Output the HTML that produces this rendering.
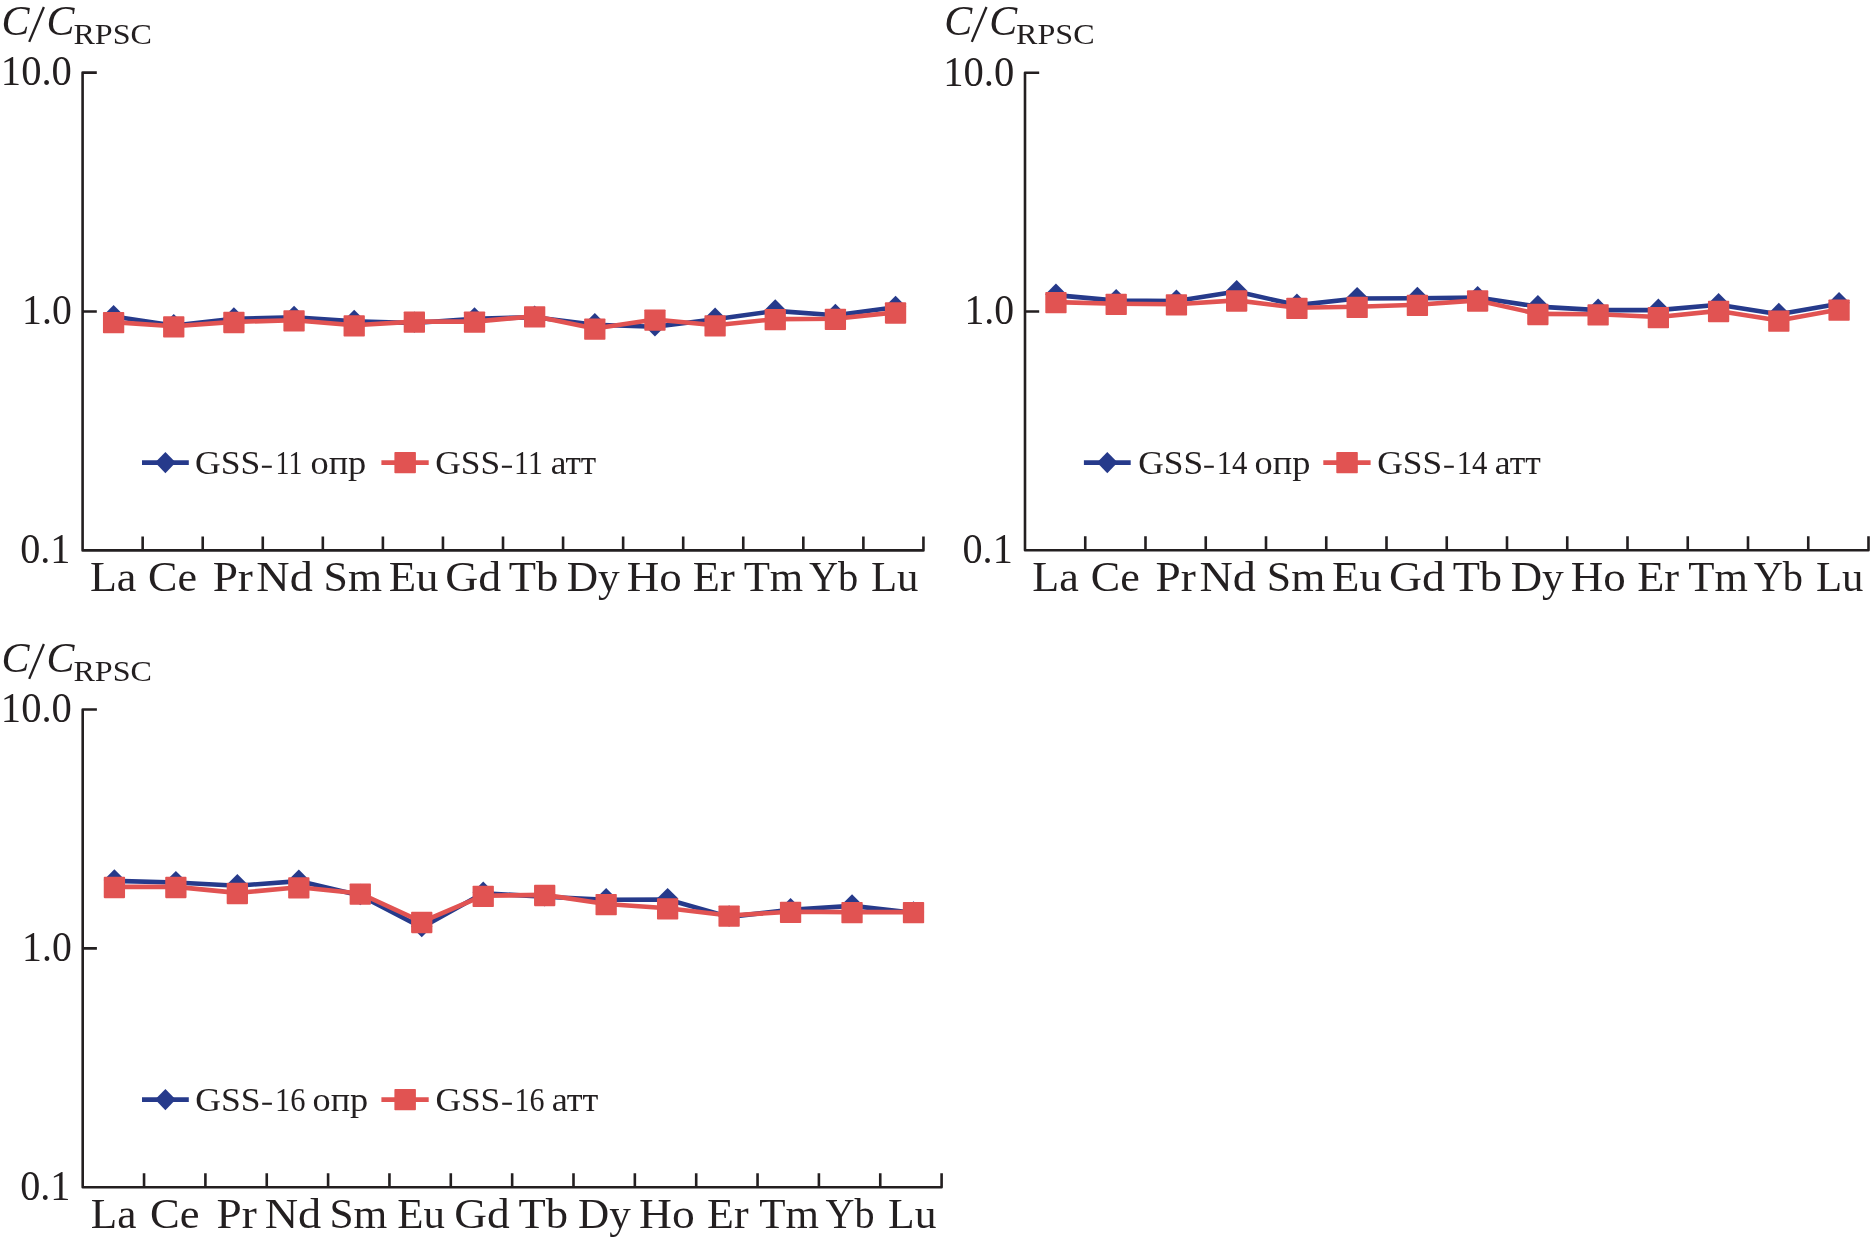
<!DOCTYPE html><html><head><meta charset="utf-8"><title>C/C RPSC</title><style>html,body{margin:0;padding:0;background:#fff;width:1870px;height:1240px;overflow:hidden}svg{display:block;will-change:transform}text{font-family:"Liberation Serif",serif;fill:#231f20}</style></head><body>
<svg width="1870" height="1240" viewBox="0 0 1870 1240">
<g><text transform="matrix(0.42 0 0 0.43 1.539 35.07)" font-size="100" font-style="italic">C</text><path d="M43.9 7L29.2 41.9" stroke="#231f20" stroke-width="2.3" fill="none"/><text transform="matrix(0.419 0 0 0.428 46.594 35.072)" font-size="100" font-style="italic">C</text><text transform="matrix(0.321 0 0 0.303 73.438 43.997)" font-size="100">RPSC</text><text transform="matrix(0.406 0 0 0.415 0.85 85.478)" font-size="100">10.0</text><text transform="matrix(0.397 0 0 0.421 22.124 323.769)" font-size="100">1.0</text><text transform="matrix(0.402 0 0 0.415 20.193 563.478)" font-size="100">0.1</text><path d="M96.8 72.6H82.6V550.4H923.44V536.4M82.6 311.5H96.8M142.66 550.4V536.4M202.72 550.4V536.4M262.78 550.4V536.4M322.84 550.4V536.4M382.9 550.4V536.4M442.96 550.4V536.4M503.02 550.4V536.4M563.08 550.4V536.4M623.14 550.4V536.4M683.2 550.4V536.4M743.26 550.4V536.4M803.32 550.4V536.4M863.38 550.4V536.4" fill="none" stroke="#231f20" stroke-width="2.6" stroke-linejoin="round"/><text transform="matrix(0.441 0 0 0.421 89.878 590.9)" font-size="100">La</text><text transform="matrix(0.441 0 0 0.421 148.038 590.9)" font-size="100">Ce</text><text transform="matrix(0.453 0 0 0.421 212.641 590.9)" font-size="100">Pr</text><text transform="matrix(0.462 0 0 0.421 256.314 590.9)" font-size="100">Nd</text><text transform="matrix(0.438 0 0 0.421 323.551 590.9)" font-size="100">Sm</text><text transform="matrix(0.449 0 0 0.421 388.654 590.9)" font-size="100">Eu</text><text transform="matrix(0.458 0 0 0.421 445.268 590.9)" font-size="100">Gd</text><text transform="matrix(0.446 0 0 0.421 508.807 590.9)" font-size="100">Tb</text><text transform="matrix(0.434 0 0 0.421 566.697 590.9)" font-size="100">Dy</text><text transform="matrix(0.45 0 0 0.421 626.649 590.9)" font-size="100">Ho</text><text transform="matrix(0.444 0 0 0.421 692.767 590.9)" font-size="100">Er</text><text transform="matrix(0.429 0 0 0.421 743.642 590.9)" font-size="100">Tm</text><text transform="matrix(0.404 0 0 0.421 808.896 590.9)" font-size="100">Yb</text><text transform="matrix(0.428 0 0 0.421 870.915 590.9)" font-size="100">Lu</text><polyline points="113.6,316.6 173.75,325.6 233.9,318.8 294.05,317.3 354.2,321.4 414.35,323 474.5,318.8 534.65,317.2 594.8,324.7 654.95,326.7 715.1,319.2 775.25,310.9 835.4,315.3 895.55,307.3" fill="none" stroke="#263a8b" stroke-width="4.6" stroke-linejoin="round"/><path d="M113.6 305l10.7 10.7l-10.7 10.7l-10.7 -10.7z" fill="#263a8b"/><path d="M173.75 314l10.7 10.7l-10.7 10.7l-10.7 -10.7z" fill="#263a8b"/><path d="M233.9 307.2l10.7 10.7l-10.7 10.7l-10.7 -10.7z" fill="#263a8b"/><path d="M294.05 305.7l10.7 10.7l-10.7 10.7l-10.7 -10.7z" fill="#263a8b"/><path d="M354.2 309.8l10.7 10.7l-10.7 10.7l-10.7 -10.7z" fill="#263a8b"/><path d="M414.35 311.4l10.7 10.7l-10.7 10.7l-10.7 -10.7z" fill="#263a8b"/><path d="M474.5 307.2l10.7 10.7l-10.7 10.7l-10.7 -10.7z" fill="#263a8b"/><path d="M534.65 305.6l10.7 10.7l-10.7 10.7l-10.7 -10.7z" fill="#263a8b"/><path d="M594.8 313.1l10.7 10.7l-10.7 10.7l-10.7 -10.7z" fill="#263a8b"/><path d="M654.95 315.1l10.7 10.7l-10.7 10.7l-10.7 -10.7z" fill="#263a8b"/><path d="M715.1 307.6l10.7 10.7l-10.7 10.7l-10.7 -10.7z" fill="#263a8b"/><path d="M775.25 299.3l10.7 10.7l-10.7 10.7l-10.7 -10.7z" fill="#263a8b"/><path d="M835.4 303.7l10.7 10.7l-10.7 10.7l-10.7 -10.7z" fill="#263a8b"/><path d="M895.55 295.7l10.7 10.7l-10.7 10.7l-10.7 -10.7z" fill="#263a8b"/><polyline points="113.6,322.1 173.75,326.3 233.9,321.9 294.05,320.2 354.2,325.3 414.35,321.6 474.5,321.6 534.65,316.2 594.8,328.6 654.95,319.5 715.1,325.2 775.25,319.1 835.4,318.7 895.55,312.4" fill="none" stroke="#e15352" stroke-width="4.6" stroke-linejoin="round"/><rect x="102.95" y="312.05" width="21.3" height="21.3" rx="0.8" fill="#e15352"/><rect x="163.1" y="316.25" width="21.3" height="21.3" rx="0.8" fill="#e15352"/><rect x="223.25" y="311.85" width="21.3" height="21.3" rx="0.8" fill="#e15352"/><rect x="283.4" y="310.15" width="21.3" height="21.3" rx="0.8" fill="#e15352"/><rect x="343.55" y="315.25" width="21.3" height="21.3" rx="0.8" fill="#e15352"/><rect x="403.7" y="311.55" width="21.3" height="21.3" rx="0.8" fill="#e15352"/><rect x="463.85" y="311.55" width="21.3" height="21.3" rx="0.8" fill="#e15352"/><rect x="524" y="306.15" width="21.3" height="21.3" rx="0.8" fill="#e15352"/><rect x="584.15" y="318.55" width="21.3" height="21.3" rx="0.8" fill="#e15352"/><rect x="644.3" y="309.45" width="21.3" height="21.3" rx="0.8" fill="#e15352"/><rect x="704.45" y="315.15" width="21.3" height="21.3" rx="0.8" fill="#e15352"/><rect x="764.6" y="309.05" width="21.3" height="21.3" rx="0.8" fill="#e15352"/><rect x="824.75" y="308.65" width="21.3" height="21.3" rx="0.8" fill="#e15352"/><rect x="884.9" y="302.35" width="21.3" height="21.3" rx="0.8" fill="#e15352"/><path d="M142 462.6H188.8" stroke="#263a8b" stroke-width="4.6"/><path d="M165.4 451.9l10.3 10.7l-10.3 10.7l-10.3 -10.7z" fill="#263a8b"/><path d="M381.4 462.6H428.7" stroke="#e15352" stroke-width="4.6"/><rect x="394.4" y="451.95" width="21.5" height="21.3" rx="0.8" fill="#e15352"/><text transform="matrix(0.356 0 0 0.34 194.975 474.2)" font-size="100">GSS</text><rect x="261.9" y="465.7" width="9.9" height="2.1" fill="#231f20"/><text transform="matrix(0.28 0 0 0.34 275.478 474.2)" font-size="100">11</text><text transform="matrix(0.364 0 0 0.34 310.443 474.2)" font-size="100">опр</text><text transform="matrix(0.354 0 0 0.34 435.182 474.2)" font-size="100">GSS</text><rect x="501.9" y="465.7" width="10.1" height="2.1" fill="#231f20"/><text transform="matrix(0.298 0 0 0.34 514.122 474.2)" font-size="100">11</text><text transform="matrix(0.353 0 0 0.34 550.664 474.2)" font-size="100">атт</text></g>
<g><text transform="matrix(0.42 0 0 0.43 944.139 35.07)" font-size="100" font-style="italic">C</text><path d="M986.5 7L971.8 41.9" stroke="#231f20" stroke-width="2.3" fill="none"/><text transform="matrix(0.419 0 0 0.428 989.194 35.072)" font-size="100" font-style="italic">C</text><text transform="matrix(0.321 0 0 0.303 1016.038 43.997)" font-size="100">RPSC</text><text transform="matrix(0.406 0 0 0.415 943.15 85.678)" font-size="100">10.0</text><text transform="matrix(0.397 0 0 0.421 964.424 323.819)" font-size="100">1.0</text><text transform="matrix(0.402 0 0 0.415 962.493 563.378)" font-size="100">0.1</text><path d="M1039.2 72.8H1025V550.3H1868.5V536.3M1025 311.55H1039.2M1085.25 550.3V536.3M1145.5 550.3V536.3M1205.75 550.3V536.3M1266 550.3V536.3M1326.25 550.3V536.3M1386.5 550.3V536.3M1446.75 550.3V536.3M1507 550.3V536.3M1567.25 550.3V536.3M1627.5 550.3V536.3M1687.75 550.3V536.3M1748 550.3V536.3M1808.25 550.3V536.3" fill="none" stroke="#231f20" stroke-width="2.6" stroke-linejoin="round"/><text transform="matrix(0.441 0 0 0.421 1032.373 590.8)" font-size="100">La</text><text transform="matrix(0.441 0 0 0.421 1090.723 590.8)" font-size="100">Ce</text><text transform="matrix(0.453 0 0 0.421 1155.516 590.8)" font-size="100">Pr</text><text transform="matrix(0.462 0 0 0.421 1199.379 590.8)" font-size="100">Nd</text><text transform="matrix(0.438 0 0 0.421 1266.806 590.8)" font-size="100">Sm</text><text transform="matrix(0.449 0 0 0.421 1332.099 590.8)" font-size="100">Eu</text><text transform="matrix(0.458 0 0 0.421 1388.903 590.8)" font-size="100">Gd</text><text transform="matrix(0.446 0 0 0.421 1452.632 590.8)" font-size="100">Tb</text><text transform="matrix(0.434 0 0 0.421 1510.712 590.8)" font-size="100">Dy</text><text transform="matrix(0.45 0 0 0.421 1570.854 590.8)" font-size="100">Ho</text><text transform="matrix(0.444 0 0 0.421 1637.162 590.8)" font-size="100">Er</text><text transform="matrix(0.429 0 0 0.421 1688.227 590.8)" font-size="100">Tm</text><text transform="matrix(0.404 0 0 0.421 1753.671 590.8)" font-size="100">Yb</text><text transform="matrix(0.428 0 0 0.421 1815.88 590.8)" font-size="100">Lu</text><polyline points="1055.95,295.1 1116.19,300.6 1176.43,301.1 1236.67,291.6 1296.91,305.1 1357.15,298.5 1417.39,298.3 1477.63,297.6 1537.87,306.6 1598.11,310.1 1658.35,310.1 1718.59,304.7 1778.83,314.3 1839.07,303.7" fill="none" stroke="#263a8b" stroke-width="4.6" stroke-linejoin="round"/><path d="M1055.95 283.5l10.7 10.7l-10.7 10.7l-10.7 -10.7z" fill="#263a8b"/><path d="M1116.19 289l10.7 10.7l-10.7 10.7l-10.7 -10.7z" fill="#263a8b"/><path d="M1176.43 289.5l10.7 10.7l-10.7 10.7l-10.7 -10.7z" fill="#263a8b"/><path d="M1236.67 280l10.7 10.7l-10.7 10.7l-10.7 -10.7z" fill="#263a8b"/><path d="M1296.91 293.5l10.7 10.7l-10.7 10.7l-10.7 -10.7z" fill="#263a8b"/><path d="M1357.15 286.9l10.7 10.7l-10.7 10.7l-10.7 -10.7z" fill="#263a8b"/><path d="M1417.39 286.7l10.7 10.7l-10.7 10.7l-10.7 -10.7z" fill="#263a8b"/><path d="M1477.63 286l10.7 10.7l-10.7 10.7l-10.7 -10.7z" fill="#263a8b"/><path d="M1537.87 295l10.7 10.7l-10.7 10.7l-10.7 -10.7z" fill="#263a8b"/><path d="M1598.11 298.5l10.7 10.7l-10.7 10.7l-10.7 -10.7z" fill="#263a8b"/><path d="M1658.35 298.5l10.7 10.7l-10.7 10.7l-10.7 -10.7z" fill="#263a8b"/><path d="M1718.59 293.1l10.7 10.7l-10.7 10.7l-10.7 -10.7z" fill="#263a8b"/><path d="M1778.83 302.7l10.7 10.7l-10.7 10.7l-10.7 -10.7z" fill="#263a8b"/><path d="M1839.07 292.1l10.7 10.7l-10.7 10.7l-10.7 -10.7z" fill="#263a8b"/><polyline points="1055.95,302.1 1116.19,303.7 1176.43,304.3 1236.67,300.4 1296.91,307.8 1357.15,306.8 1417.39,304.7 1477.63,300.4 1537.87,313.9 1598.11,314.2 1658.35,317 1718.59,310.9 1778.83,320.6 1839.07,309.6" fill="none" stroke="#e15352" stroke-width="4.6" stroke-linejoin="round"/><rect x="1045.3" y="292.05" width="21.3" height="21.3" rx="0.8" fill="#e15352"/><rect x="1105.54" y="293.65" width="21.3" height="21.3" rx="0.8" fill="#e15352"/><rect x="1165.78" y="294.25" width="21.3" height="21.3" rx="0.8" fill="#e15352"/><rect x="1226.02" y="290.35" width="21.3" height="21.3" rx="0.8" fill="#e15352"/><rect x="1286.26" y="297.75" width="21.3" height="21.3" rx="0.8" fill="#e15352"/><rect x="1346.5" y="296.75" width="21.3" height="21.3" rx="0.8" fill="#e15352"/><rect x="1406.74" y="294.65" width="21.3" height="21.3" rx="0.8" fill="#e15352"/><rect x="1466.98" y="290.35" width="21.3" height="21.3" rx="0.8" fill="#e15352"/><rect x="1527.22" y="303.85" width="21.3" height="21.3" rx="0.8" fill="#e15352"/><rect x="1587.46" y="304.15" width="21.3" height="21.3" rx="0.8" fill="#e15352"/><rect x="1647.7" y="306.95" width="21.3" height="21.3" rx="0.8" fill="#e15352"/><rect x="1707.94" y="300.85" width="21.3" height="21.3" rx="0.8" fill="#e15352"/><rect x="1768.18" y="310.55" width="21.3" height="21.3" rx="0.8" fill="#e15352"/><rect x="1828.42" y="299.55" width="21.3" height="21.3" rx="0.8" fill="#e15352"/><path d="M1083.9 462.6H1130.7" stroke="#263a8b" stroke-width="4.6"/><path d="M1107.3 451.9l10.3 10.7l-10.3 10.7l-10.3 -10.7z" fill="#263a8b"/><path d="M1323.3 462.6H1370.6" stroke="#e15352" stroke-width="4.6"/><rect x="1336.3" y="451.95" width="21.5" height="21.3" rx="0.8" fill="#e15352"/><text transform="matrix(0.354 0 0 0.34 1138.284 474.2)" font-size="100">GSS</text><rect x="1204.2" y="465.7" width="9.6" height="2.1" fill="#231f20"/><text transform="matrix(0.307 0 0 0.34 1216.635 474.2)" font-size="100">14</text><text transform="matrix(0.364 0 0 0.34 1254.546 474.2)" font-size="100">опр</text><text transform="matrix(0.354 0 0 0.34 1377.182 474.2)" font-size="100">GSS</text><rect x="1444.2" y="465.7" width="9.6" height="2.1" fill="#231f20"/><text transform="matrix(0.307 0 0 0.34 1456.635 474.2)" font-size="100">14</text><text transform="matrix(0.356 0 0 0.34 1494.752 474.2)" font-size="100">атт</text></g>
<g><text transform="matrix(0.42 0 0 0.43 1.539 672.07)" font-size="100" font-style="italic">C</text><path d="M43.9 644L29.2 678.9" stroke="#231f20" stroke-width="2.3" fill="none"/><text transform="matrix(0.419 0 0 0.428 46.594 672.072)" font-size="100" font-style="italic">C</text><text transform="matrix(0.321 0 0 0.303 73.438 680.997)" font-size="100">RPSC</text><text transform="matrix(0.406 0 0 0.415 0.85 722.378)" font-size="100">10.0</text><text transform="matrix(0.397 0 0 0.421 22.124 960.619)" font-size="100">1.0</text><text transform="matrix(0.402 0 0 0.415 20.193 1200.278)" font-size="100">0.1</text><path d="M96.9 709.5H82.7V1187.2H941.6V1173.2M82.7 948.35H96.9M144.05 1187.2V1173.2M205.4 1187.2V1173.2M266.75 1187.2V1173.2M328.1 1187.2V1173.2M389.45 1187.2V1173.2M450.8 1187.2V1173.2M512.15 1187.2V1173.2M573.5 1187.2V1173.2M634.85 1187.2V1173.2M696.2 1187.2V1173.2M757.55 1187.2V1173.2M818.9 1187.2V1173.2M880.25 1187.2V1173.2" fill="none" stroke="#231f20" stroke-width="2.6" stroke-linejoin="round"/><text transform="matrix(0.432 0 0 0.421 90.78 1227.7)" font-size="100">La</text><text transform="matrix(0.446 0 0 0.421 150.039 1227.7)" font-size="100">Ce</text><text transform="matrix(0.453 0 0 0.421 216.466 1227.7)" font-size="100">Pr</text><text transform="matrix(0.463 0 0 0.421 264.637 1227.7)" font-size="100">Nd</text><text transform="matrix(0.434 0 0 0.421 329.402 1227.7)" font-size="100">Sm</text><text transform="matrix(0.429 0 0 0.421 397.188 1227.7)" font-size="100">Eu</text><text transform="matrix(0.454 0 0 0.421 454.31 1227.7)" font-size="100">Gd</text><text transform="matrix(0.446 0 0 0.421 518.582 1227.7)" font-size="100">Tb</text><text transform="matrix(0.432 0 0 0.421 578.079 1227.7)" font-size="100">Dy</text><text transform="matrix(0.456 0 0 0.421 639.006 1227.7)" font-size="100">Ho</text><text transform="matrix(0.44 0 0 0.421 707.056 1227.7)" font-size="100">Er</text><text transform="matrix(0.43 0 0 0.421 759.214 1227.7)" font-size="100">Tm</text><text transform="matrix(0.401 0 0 0.421 825.624 1227.7)" font-size="100">Yb</text><text transform="matrix(0.435 0 0 0.421 888.071 1227.7)" font-size="100">Lu</text><polyline points="114.4,880.9 175.87,882.5 237.34,885.7 298.81,881.1 360.28,895.4 421.75,927.5 483.22,893.2 544.69,896.7 606.16,899.7 667.63,899.5 729.1,916.9 790.57,909.7 852.04,905.9 913.51,912.9" fill="none" stroke="#263a8b" stroke-width="4.6" stroke-linejoin="round"/><path d="M114.4 869.3l10.7 10.7l-10.7 10.7l-10.7 -10.7z" fill="#263a8b"/><path d="M175.87 870.9l10.7 10.7l-10.7 10.7l-10.7 -10.7z" fill="#263a8b"/><path d="M237.34 874.1l10.7 10.7l-10.7 10.7l-10.7 -10.7z" fill="#263a8b"/><path d="M298.81 869.5l10.7 10.7l-10.7 10.7l-10.7 -10.7z" fill="#263a8b"/><path d="M360.28 883.8l10.7 10.7l-10.7 10.7l-10.7 -10.7z" fill="#263a8b"/><path d="M421.75 915.9l10.7 10.7l-10.7 10.7l-10.7 -10.7z" fill="#263a8b"/><path d="M483.22 881.6l10.7 10.7l-10.7 10.7l-10.7 -10.7z" fill="#263a8b"/><path d="M544.69 885.1l10.7 10.7l-10.7 10.7l-10.7 -10.7z" fill="#263a8b"/><path d="M606.16 888.1l10.7 10.7l-10.7 10.7l-10.7 -10.7z" fill="#263a8b"/><path d="M667.63 887.9l10.7 10.7l-10.7 10.7l-10.7 -10.7z" fill="#263a8b"/><path d="M729.1 905.3l10.7 10.7l-10.7 10.7l-10.7 -10.7z" fill="#263a8b"/><path d="M790.57 898.1l10.7 10.7l-10.7 10.7l-10.7 -10.7z" fill="#263a8b"/><path d="M852.04 894.3l10.7 10.7l-10.7 10.7l-10.7 -10.7z" fill="#263a8b"/><path d="M913.51 901.3l10.7 10.7l-10.7 10.7l-10.7 -10.7z" fill="#263a8b"/><polyline points="114.4,886.9 175.87,886.9 237.34,892.9 298.81,887.3 360.28,893.5 421.75,921.9 483.22,895.7 544.69,894.9 606.16,904 667.63,908.3 729.1,915.5 790.57,911.8 852.04,912.1 913.51,912.1" fill="none" stroke="#e15352" stroke-width="4.6" stroke-linejoin="round"/><rect x="103.75" y="876.85" width="21.3" height="21.3" rx="0.8" fill="#e15352"/><rect x="165.22" y="876.85" width="21.3" height="21.3" rx="0.8" fill="#e15352"/><rect x="226.69" y="882.85" width="21.3" height="21.3" rx="0.8" fill="#e15352"/><rect x="288.16" y="877.25" width="21.3" height="21.3" rx="0.8" fill="#e15352"/><rect x="349.63" y="883.45" width="21.3" height="21.3" rx="0.8" fill="#e15352"/><rect x="411.1" y="911.85" width="21.3" height="21.3" rx="0.8" fill="#e15352"/><rect x="472.57" y="885.65" width="21.3" height="21.3" rx="0.8" fill="#e15352"/><rect x="534.04" y="884.85" width="21.3" height="21.3" rx="0.8" fill="#e15352"/><rect x="595.51" y="893.95" width="21.3" height="21.3" rx="0.8" fill="#e15352"/><rect x="656.98" y="898.25" width="21.3" height="21.3" rx="0.8" fill="#e15352"/><rect x="718.45" y="905.45" width="21.3" height="21.3" rx="0.8" fill="#e15352"/><rect x="779.92" y="901.75" width="21.3" height="21.3" rx="0.8" fill="#e15352"/><rect x="841.39" y="902.05" width="21.3" height="21.3" rx="0.8" fill="#e15352"/><rect x="902.86" y="902.05" width="21.3" height="21.3" rx="0.8" fill="#e15352"/><path d="M142 1099.6H188.8" stroke="#263a8b" stroke-width="4.6"/><path d="M165.4 1088.9l10.3 10.7l-10.3 10.7l-10.3 -10.7z" fill="#263a8b"/><path d="M381.4 1099.6H428.7" stroke="#e15352" stroke-width="4.6"/><rect x="394.4" y="1088.95" width="21.5" height="21.3" rx="0.8" fill="#e15352"/><text transform="matrix(0.356 0 0 0.34 195.178 1111.2)" font-size="100">GSS</text><rect x="262.2" y="1102.7" width="9.7" height="2.1" fill="#231f20"/><text transform="matrix(0.305 0 0 0.34 275.059 1111.2)" font-size="100">16</text><text transform="matrix(0.363 0 0 0.34 312.548 1111.2)" font-size="100">опр</text><text transform="matrix(0.354 0 0 0.34 435.382 1111.2)" font-size="100">GSS</text><rect x="502.2" y="1102.7" width="9.7" height="2.1" fill="#231f20"/><text transform="matrix(0.3 0 0 0.34 514.4 1111.2)" font-size="100">16</text><text transform="matrix(0.362 0 0 0.34 551.633 1111.2)" font-size="100">атт</text></g>
</svg></body></html>
